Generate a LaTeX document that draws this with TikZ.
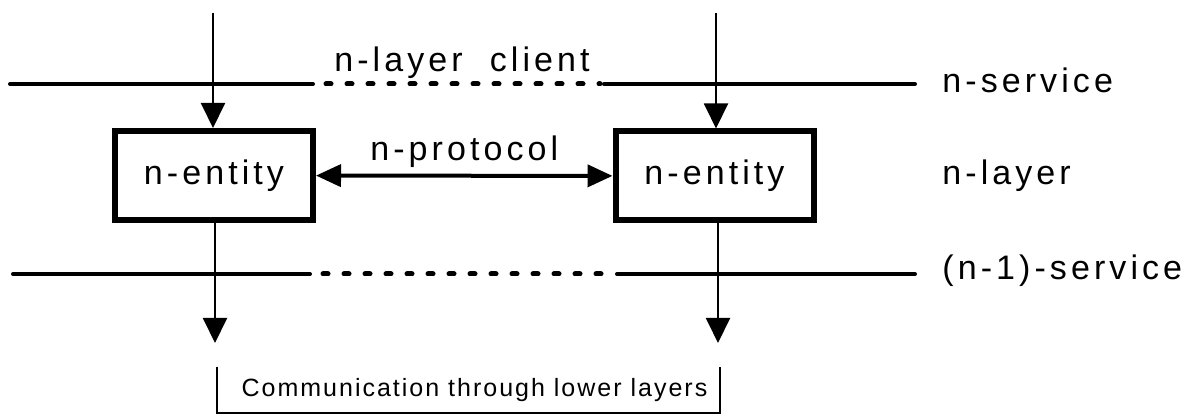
\documentclass[tikz,border=0pt]{standalone}
\usepackage{fontspec}
\setmainfont{Liberation Sans}[LetterSpace=12]
\newfontfamily\notefont{Liberation Sans}[LetterSpace=8]
\usetikzlibrary{arrows.meta}

\tikzset{
  entity/.style={draw, line width=3pt, minimum width=99pt, minimum height=44.5pt, inner sep=0pt},
  service/.style={line width=2pt, line cap=round},
  gap/.style={service, line width=2.5pt, dash pattern=on 2.5pt off 8pt},
  down/.style={line width=1pt, -{Triangle[length=12.5pt, width=12pt]}},
  both/.style={line width=2pt, {Triangle[length=12.5pt, width=11pt]}-{Triangle[length=12.5pt, width=11pt]}},
  side/.style={anchor=base west, inner sep=0pt},
}

\begin{document}
\begin{tikzpicture}[x=0.5pt, y=-0.5pt, font=\fontsize{17}{20}\selectfont]
  \useasboundingbox (0,0) rectangle (1187,415);

  % service boundaries, dotted where the peers meet
  \draw[service] (10,84) -- (313,84) (604,84) -- (915,84);
  \draw[gap] (326,84) -- (600,84);
  \draw[service] (13,274) -- (310,274) (617,274) -- (915,274);
  \draw[gap] (323,274) -- (607,274);

  \node (srv) [side] at (942,93) {n-service};
  \node (lay) [side] at (942,185) {n-layer};
  \node (sub) [side] at (942,280) {(n-1)-service};
  \node (client) [anchor=base, inner sep=0pt] at (462,72) {n-layer~~client};

  \coordinate (in1) at (213,13);
  \coordinate (in2) at (716,13);
  \coordinate (out1) at (215,343);
  \coordinate (out2) at (718,343);

  \draw
    (214,175.5) node (e1) [entity] {n-entity}
    (714.5,176) node (e2) [entity] {n-entity}
    (468.5,390) node (lower) [minimum width=251.5pt, minimum height=23pt, font=\notefont\fontsize{12.5}{15}\selectfont] {\hspace{6pt}Communication through lower layers}
  ;

  \draw[both] (e1) -- node [midway, above] {n-protocol} (e2);

  \draw[down] (in1) -- (in1 |- e1.north);
  \draw[down] (in2) -- (in2 |- e2.north);
  \draw[down] (out1 |- e1.south) -- (out1);
  \draw[down] (out2 |- e2.south) -- (out2);

  \draw[line width=1pt] (lower.north west) -- (lower.south west) -- (lower.south east) -- (lower.north east);
\end{tikzpicture}
\end{document}
